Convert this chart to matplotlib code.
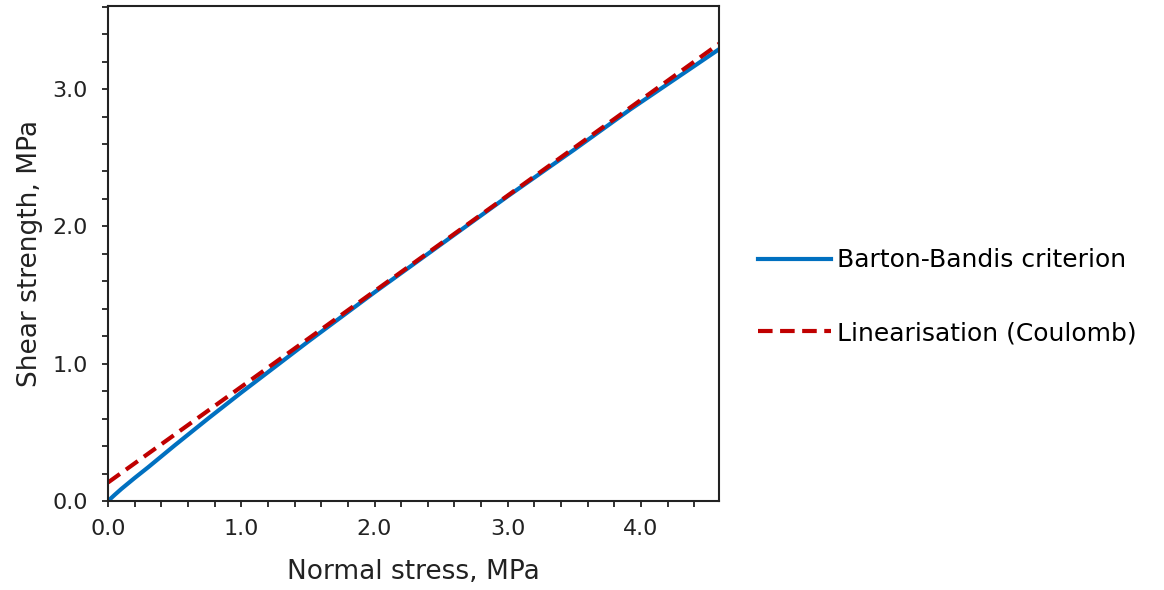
import numpy as np
import matplotlib.pyplot as plt
from matplotlib.ticker import MultipleLocator

# values
normal_stress = [0.0, 0.05, 0.1, 0.2, 0.3, 0.5, 0.75, 1.0, 1.25, 1.5, 2.0, 2.5, 3.0, 3.5, 3.916, 4.6]
shear_bb = [0.0, 0.045, 0.088, 0.168, 0.245, 0.405, 0.60, 0.79, 0.975, 1.16, 1.52, 1.87, 2.22, 2.56, 2.85, 3.30]
lin_stress = [0.0, 4.6]
shear_lin = [0.135, 3.34]

plt.rcParams['font.family'] = ['DejaVu Sans']

fig = plt.figure(figsize=(11.64, 5.9), dpi=100)
ax = fig.add_axes([0.0928, 0.1508, 0.5249, 0.839])

ax.plot(normal_stress, shear_bb, color='#0070C0', lw=3, label='Barton-Bandis criterion')
ax.plot(lin_stress, shear_lin, color='#C00000', lw=3, ls=(0, (3.5, 1.8)), label='Linearisation (Coulomb)')

ax.set_xlim(0, 4.585)
ax.set_ylim(0, 3.605)
ax.xaxis.set_major_locator(MultipleLocator(1.0))
ax.xaxis.set_minor_locator(MultipleLocator(0.2))
ax.yaxis.set_major_locator(MultipleLocator(1.0))
ax.yaxis.set_minor_locator(MultipleLocator(0.2))
ax.xaxis.set_major_formatter(lambda v, p: f"{v:.1f}")
ax.yaxis.set_major_formatter(lambda v, p: f"{v:.1f}")
ax.tick_params(which='both', direction='out', length=4, width=1.3, labelsize=16, colors='#222222')
ax.tick_params(axis='x', which='major', pad=9)
ax.tick_params(axis='y', which='major', pad=10.5)
for s in ax.spines.values():
    s.set_linewidth(1.5)
    s.set_color('#222222')

ax.set_xlabel("Normal stress, MPa", fontsize=19, color='#222222', labelpad=14)
ax.set_ylabel("Shear strength, MPa", fontsize=19, color='#222222', labelpad=7)

fig.legend(loc='center left', bbox_to_anchor=(0.632, 0.497), frameon=False, fontsize=18,
           handlelength=2.9, handletextpad=0.25, labelspacing=1.95)

fig.savefig("out.png", dpi=100)
